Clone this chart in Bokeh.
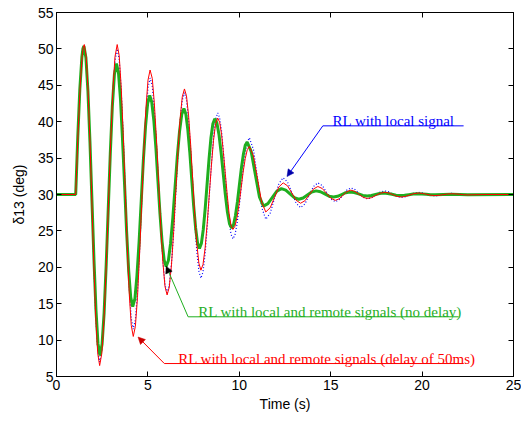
from bokeh.plotting import figure
from bokeh.models import Range1d, LinearAxis, FixedTicker, Arrow, NormalHead, Label
from bokeh.embed import file_html
from bokeh.resources import INLINE

x_ticks = [0, 5, 10, 15, 20, 25]
y_ticks = [5, 10, 15, 20, 25, 30, 35, 40, 45, 50, 55]

# time base shared by the "local signal" and "delay of 50ms" runs
t_local = [0, 1.05, 1.17, 1.29, 1.40, 1.46, 1.52,
           1.625, 1.73, 1.835, 1.94, 2.045, 2.15, 2.255, 2.36,
           2.48, 2.60, 2.72, 2.84, 2.96, 3.08, 3.20, 3.32,
           3.43, 3.54, 3.65, 3.76, 3.87, 3.98, 4.09, 4.20,
           4.315, 4.43, 4.545, 4.66, 4.775, 4.89, 5.005, 5.12,
           5.24, 5.35, 5.47, 5.585, 5.70, 5.82, 5.935, 6.05,
           6.17, 6.29, 6.41, 6.525, 6.64, 6.76, 6.88, 7.00,
           7.11, 7.225, 7.34, 7.45, 7.56, 7.675, 7.79, 7.90,
           8.015, 8.13, 8.245, 8.36, 8.475, 8.59, 8.705, 8.82,
           8.925, 9.03, 9.13, 9.235, 9.34, 9.44, 9.545, 9.65,
           9.76, 9.875, 9.99, 10.10, 10.21, 10.325, 10.44, 10.55,
           10.775, 11.0, 11.225, 11.45,
           11.69, 11.925, 12.16, 12.40,
           12.64, 12.875, 13.11, 13.35,
           13.59, 13.825, 14.06, 14.30,
           14.54, 14.775, 15.01, 15.25,
           15.46, 15.675, 15.89, 16.10,
           16.325, 16.55, 16.775, 17.00,
           17.24, 17.475, 17.71, 17.95,
           18.175, 18.4, 18.625, 18.85,
           19.09, 19.325, 19.56, 19.80,
           20.025, 20.25, 20.475, 20.70,
           20.925, 21.15, 21.375, 21.60,
           21.825, 22.05, 22.275, 22.50,
           23.5, 25.0]

d13_local = [30, 30, 37.77, 44.35, 48.76, 49.91, 50.3,
             48.65, 43.98, 36.92, 28.65, 20.38, 13.32, 8.65, 7.0,
             8.63, 13.28, 20.29, 28.5, 36.71, 43.72, 48.37, 50.0,
             48.54, 44.38, 38.1, 30.75, 23.4, 17.12, 12.96, 11.5,
             12.81, 16.54, 22.16, 28.75, 35.34, 40.96, 44.69, 46.0,
             44.88, 41.69, 36.88, 31.25, 25.62, 20.81, 17.62, 16.5,
             17.55, 20.52, 25.0, 30.25, 35.5, 39.99, 42.96, 44.0,
             43.03, 40.28, 36.12, 31.25, 26.38, 22.22, 19.47, 18.5,
             19.36, 21.81, 25.51, 29.85, 34.19, 37.89, 40.34, 41.2,
             40.54, 38.67, 35.85, 32.55, 29.25, 26.43, 24.56, 23.9,
             24.43, 25.93, 28.2, 30.85, 33.5, 35.77, 37.27, 37.8,
             36.16, 32.2, 28.24, 26.6,
             27.43, 29.45, 31.47, 32.3,
             31.7, 30.25, 28.8, 28.2,
             28.7, 29.9, 31.1, 31.6,
             31.22, 30.3, 29.38, 29.0,
             29.28, 29.95, 30.62, 30.9,
             30.68, 30.15, 29.62, 29.4,
             29.56, 29.95, 30.34, 30.5,
             30.37, 30.05, 29.73, 29.6,
             29.7, 29.95, 30.2, 30.3,
             30.23, 30.05, 29.87, 29.8,
             29.85, 29.98, 30.1, 30.15,
             30.12, 30.05, 29.98, 29.95,
             30.0, 30.0]

d13_delay = [30, 30, 37.9, 44.6, 49.0, 50.2, 50.6,
             48.92, 44.16, 36.97, 28.55, 20.13, 12.94, 8.18, 6.5,
             8.18, 12.94, 20.13, 28.55, 36.97, 44.16, 48.92, 50.6,
             49.08, 44.75, 38.21, 30.55, 22.89, 16.35, 12.02, 10.5,
             11.89, 15.84, 21.81, 28.8, 35.79, 41.76, 45.71, 47.1,
             45.93, 42.59, 37.55, 31.65, 25.75, 20.71, 17.37, 16.2,
             17.28, 20.33, 24.94, 30.35, 35.76, 40.37, 43.42, 44.5,
             43.55, 40.86, 36.81, 32.05, 27.29, 23.24, 20.55, 19.6,
             20.39, 22.65, 26.06, 30.05, 34.04, 37.45, 39.71, 40.5,
             39.92, 38.27, 35.77, 32.85, 29.93, 27.43, 25.78, 25.2,
             25.63, 26.86, 28.72, 30.9, 33.08, 34.94, 36.17, 36.6,
             35.29, 32.1, 28.91, 27.6,
             28.18, 29.6, 31.02, 31.6,
             31.19, 30.2, 29.21, 28.8,
             29.14, 29.95, 30.76, 31.1,
             30.82, 30.15, 29.48, 29.2,
             29.4, 29.9, 30.4, 30.6,
             30.43, 30.03, 29.62, 29.45,
             29.57, 29.88, 30.18, 30.3,
             30.21, 29.98, 29.75, 29.65,
             29.73, 29.93, 30.12, 30.2,
             30.15, 30.03, 29.9, 29.85,
             29.89, 29.98, 30.06, 30.1,
             30.08, 30.03, 29.97, 29.95,
             30.0, 30.0]

t_nodelay = [0, 1.05, 1.1625, 1.275, 1.3875, 1.444, 1.50,
             1.61, 1.72, 1.83, 1.94, 2.05, 2.16, 2.27, 2.38,
             2.4925, 2.605, 2.7175, 2.83, 2.9425, 3.055, 3.1675, 3.28,
             3.39, 3.50, 3.61, 3.725, 3.835, 3.95, 4.06, 4.17,
             4.29, 4.40, 4.52, 4.635, 4.75, 4.87, 4.985, 5.10,
             5.21, 5.325, 5.44, 5.55, 5.66, 5.775, 5.89, 6.00,
             6.12, 6.24, 6.365, 6.485, 6.605, 6.73, 6.85, 6.97,
             7.075, 7.18, 7.29, 7.395, 7.50, 7.61, 7.715, 7.82,
             7.925, 8.03, 8.135, 8.24, 8.345, 8.45, 8.555, 8.66,
             8.775, 8.89, 9.005, 9.12, 9.235, 9.35, 9.465, 9.58,
             9.685, 9.79, 9.90, 10.005, 10.11, 10.22, 10.325, 10.43,
             10.65, 10.875, 11.10, 11.32,
             11.565, 11.81, 12.055, 12.30,
             12.54, 12.775, 13.01, 13.25,
             13.49, 13.725, 13.96, 14.20,
             14.44, 14.675, 14.91, 15.15,
             15.375, 15.6, 15.825, 16.05,
             16.29, 16.525, 16.76, 17.00,
             17.225, 17.45, 17.675, 17.90,
             18.125, 18.35, 18.575, 18.80,
             19.04, 19.275, 19.51, 19.75,
             19.99, 20.225, 20.46, 20.70,
             21.6, 22.5, 25.0]

d13_nodelay = [30, 30, 37.81, 44.42, 48.85, 50.01, 50.4,
               48.78, 44.19, 37.27, 29.15, 21.03, 14.1, 9.51, 7.9,
               9.42, 13.75, 20.29, 27.95, 35.61, 42.15, 46.48, 48.0,
               46.73, 43.12, 37.68, 31.3, 24.92, 19.48, 15.87, 14.6,
               15.7, 18.83, 23.56, 29.1, 34.64, 39.37, 42.5, 43.6,
               42.71, 40.17, 36.34, 31.85, 27.36, 23.53, 20.99, 20.1,
               20.92, 23.27, 26.81, 30.95, 35.09, 38.63, 40.98, 41.8,
               41.07, 39.0, 35.87, 32.2, 28.53, 25.4, 23.33, 22.6,
               23.28, 25.2, 28.1, 31.5, 34.9, 37.8, 39.72, 40.4,
               39.83, 38.21, 35.76, 32.9, 30.03, 27.59, 25.97, 25.4,
               25.85, 27.12, 29.05, 31.3, 33.55, 35.48, 36.75, 37.2,
               35.92, 32.8, 29.68, 28.4,
               28.75, 29.6, 30.45, 30.8,
               30.59, 30.08, 29.56, 29.35,
               29.52, 29.93, 30.33, 30.5,
               30.38, 30.08, 29.77, 29.65,
               29.75, 30.0, 30.25, 30.35,
               30.27, 30.08, 29.88, 29.8,
               29.86, 30.0, 30.14, 30.2,
               30.15, 30.03, 29.9, 29.85,
               29.89, 29.98, 30.06, 30.1,
               30.08, 30.03, 29.97, 29.95,
               30.05, 29.98, 30.0]

BLUE = "#0000ff"
GREEN = "#1fae1f"
RED = "#ff0000"
TICK_FONT = "Liberation Sans"
NOTE_FONT = "Liberation Serif"

p = figure(width=521, height=414, output_backend="svg", toolbar_location=None,
           x_range=Range1d(0, 25), y_range=Range1d(5, 55),
           min_border_left=56, min_border_right=8, min_border_top=12, min_border_bottom=36)
p.grid.visible = False
p.outline_line_color = "black"
p.outline_line_width = 1
p.background_fill_color = "white"
p.border_fill_color = "white"

for ax, ticks in ((p.xaxis[0], x_ticks), (p.yaxis[0], y_ticks)):
    ax.ticker = FixedTicker(ticks=ticks)
    ax.major_tick_in = 5
    ax.major_tick_out = 0
    ax.minor_tick_line_color = None
    ax.axis_line_color = "black"
    ax.major_label_text_font = TICK_FONT
    ax.major_label_text_font_size = "14px"
    ax.major_label_text_color = "black"
    ax.axis_label_text_font = TICK_FONT
    ax.axis_label_text_font_size = "14px"
    ax.axis_label_text_font_style = "normal"
    ax.axis_label_text_color = "black"
    ax.major_label_standoff = 3

p.xaxis.axis_label = "Time (s)"
p.xaxis.axis_label_standoff = 3
p.yaxis.axis_label = "δ13 (deg)"
p.yaxis.axis_label_standoff = 8

for side, ticks in (("above", x_ticks), ("right", y_ticks)):
    ax = LinearAxis(ticker=FixedTicker(ticks=ticks), major_tick_in=5, major_tick_out=0,
                    minor_tick_line_color=None, major_label_text_font_size="1px",
                    major_label_overrides={t: "" for t in ticks},
                    major_label_standoff=0, axis_line_color="black")
    p.add_layout(ax, side)

p.line(t_local, d13_local, line_color=BLUE, line_width=1.2, line_dash="1 2")
p.line(t_nodelay, d13_nodelay, line_color=GREEN, line_width=3)
p.line(t_local, d13_delay, line_color=RED, line_width=1.0)

# annotations
notes = [
    ("RL with local signal", BLUE, "#0000aa", 15.1, 40.1, 14.57, 22.27, 39.43, 12.61, 32.46),
    ("RL with local and remote signals (no delay)", GREEN, "#000000", 7.75, 13.88, 7.2, 22.0, 13.2, 6.0, 20.16),
    ("RL with local and remote signals (delay of 50ms)", RED, "#cc0000", 6.66, 7.46, 5.9, 22.27, 6.78, 4.46, 10.42),
]
for txt, col, headcol, tx, ty, ux0, ux1, uy, ax_, ay_ in notes:
    p.line([ux0, ux1], [uy, uy], line_color=col, line_width=1)
    p.add_layout(Arrow(end=NormalHead(size=7, fill_color=headcol, line_color=headcol, line_width=0.5),
                       x_start=ux0, y_start=uy, x_end=ax_, y_end=ay_,
                       line_color=col, line_width=1))
    p.add_layout(Label(x=tx, y=ty, text=txt, text_color=col, text_font=NOTE_FONT,
                       text_font_size="15px", text_baseline="alphabetic", text_align="left"))

open("out.html", "w").write(file_html(p, INLINE))
